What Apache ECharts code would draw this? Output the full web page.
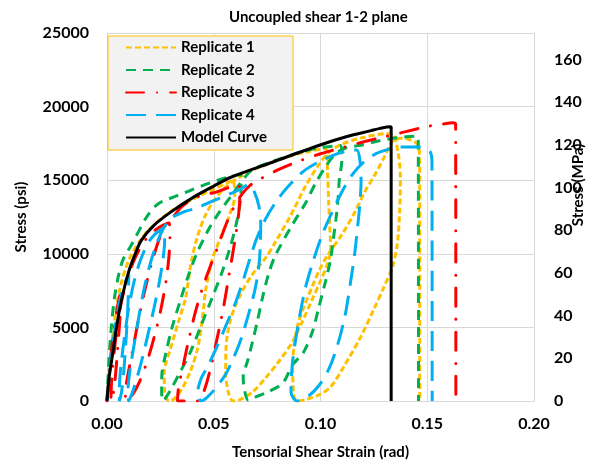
<!DOCTYPE html>
<html>
<head>
<meta charset="utf-8">
<script src="https://cdn.jsdelivr.net/npm/echarts@6/dist/echarts.min.js"></script>
<style>
  html, body { margin: 0; padding: 0; background: #ffffff; }
  #chart { width: 597px; height: 465px; }
</style>
</head>
<body>
<div id="chart"></div>
<script>
// Cyclic in-plane shear tests, [tensorial shear strain (rad), stress (psi)]
const replicate1 = [
  [0,0],[0.001,2000],[0.003,4900],[0.006,7600],[0.010,9500],[0.015,10800],[0.020,11700],[0.030,12900],[0.040,13700],[0.050,14400],[0.059,14950],
  [0.0598,13900],[0.0578,12800],[0.0535,11200],[0.0490,9500],[0.0462,7500],[0.0446,5500],[0.0425,3600],[0.0390,2000],[0.0350,800],[0.0315,150],[0.0290,0],
  [0.0270,700],[0.0268,2000],[0.0292,3300],[0.0335,5400],[0.0368,7000],[0.0393,9300],[0.0420,11000],[0.0460,12600],[0.0510,13800],[0.0560,14600],[0.0620,15200],
  [0.0700,15800],[0.0850,16600],[0.0960,17000],[0.1023,17150],
  [0.1033,15500],[0.1038,13600],[0.1043,11900],[0.1048,10300],[0.1030,9200],[0.0995,8000],[0.0958,6800],[0.0915,5400],[0.0868,4000],[0.0803,2650],[0.0742,1550],[0.0681,600],[0.0624,100],[0.0590,0],
  [0.0568,600],[0.0556,2000],[0.0557,3500],[0.0578,5500],[0.0624,7200],[0.0681,8600],[0.0742,9700],[0.0789,10800],[0.0860,12600],[0.0930,14600],[0.0990,16000],[0.1040,16900],[0.1100,17450],[0.1200,17900],[0.1300,18150],[0.1337,18150],
  [0.1362,17000],[0.1374,15300],[0.1371,13000],[0.1360,10700],[0.1337,9100],[0.1296,7700],[0.1249,6200],[0.1188,4350],[0.1108,2300],[0.1047,950],[0.0991,400],[0.0930,100],[0.0895,0],
  [0.0876,300],[0.0870,2400],[0.0878,4000],[0.0898,5400],[0.0925,6500],[0.0962,7800],[0.0995,8900],[0.1033,9900],[0.1100,11300],[0.1160,12800],[0.1207,14200],[0.1254,15350],[0.1300,16600],[0.1340,17700],
  [0.1380,17850],[0.1420,17750],[0.1450,17500],[0.1462,17100],[0.1465,15000],[0.1465,0]
];

const replicate2 = [
  [0,0],[0.0008,2500],[0.002,5000],[0.0035,7000],[0.0055,8600],[0.0075,9600],[0.011,10500],[0.014,11300],[0.019,12600],[0.024,13400],[0.032,13900],[0.039,14300],[0.045,14650],[0.052,15000],[0.058,15250],[0.0625,15400],
  [0.0628,14500],[0.0622,13300],[0.0605,12000],[0.0578,10500],[0.0540,8800],[0.0495,7100],[0.0440,5100],[0.0390,3300],[0.0340,1900],[0.0300,800],[0.0272,150],[0.0262,0],
  [0.0256,600],[0.0257,1800],[0.0275,3200],[0.0305,5000],[0.0345,6900],[0.0383,8600],[0.0420,10000],[0.0470,11500],[0.0520,12700],[0.0575,13800],[0.0630,14900],[0.0680,15700],[0.0800,16400],[0.0930,17000],[0.1020,17250],[0.1095,17350],
  [0.1100,16400],[0.1088,15000],[0.1082,13700],[0.1072,12300],[0.1060,11000],[0.1047,9600],[0.1023,8100],[0.0991,6300],[0.0962,4700],[0.0920,3300],[0.0869,2450],[0.0822,1200],[0.0742,540],[0.0695,270],[0.0662,50],
  [0.0642,900],[0.0638,1700],[0.0657,2650],[0.0681,4000],[0.0704,5400],[0.0728,7000],[0.0756,8600],[0.0789,9900],[0.0869,12000],[0.0930,13450],[0.0977,14800],[0.1023,15900],[0.1070,16800],[0.1120,17200],[0.1180,17350],
  [0.1250,17600],[0.1320,17800],[0.1400,17950],[0.1452,18000],[0.1458,17500],[0.1459,0]
];

const replicate3 = [
  [0,0],[0.0008,1400],[0.0018,3000],[0.0032,4800],[0.0048,6300],[0.0062,7300],
  [0.0062,6200],[0.0055,4500],[0.0045,2600],[0.0035,1100],[0.0025,200],[0.0018,0],
  [0.0022,1500],[0.0035,3500],[0.0052,5500],[0.0070,6900],[0.0095,8300],[0.0125,9500],[0.0160,10500],[0.0200,11300],[0.0245,11800],[0.0290,12100],
  [0.0295,11200],[0.0290,9800],[0.0276,8100],[0.0252,6200],[0.0222,4400],[0.0188,2700],[0.0152,1300],[0.0118,400],[0.0088,0],
  [0.0086,600],[0.0097,1700],[0.0122,3600],[0.0150,5700],[0.0180,7700],[0.0212,9500],[0.0242,10900],[0.0272,11900],[0.0310,12500],[0.0350,13200],[0.0400,13700],[0.0450,14000],[0.0500,14150],[0.0560,14450],[0.0615,14700],
  [0.0622,13900],[0.0615,12500],[0.0598,10800],[0.0572,8600],[0.0545,6300],[0.0515,4200],[0.0488,2400],[0.0462,1000],[0.0440,200],[0.0425,0],[0.0330,0],
  [0.0335,900],[0.0358,2500],[0.0385,4300],[0.0415,6100],[0.0448,7700],[0.0480,9000],[0.0512,10200],[0.0542,11400],[0.0572,12500],[0.0603,13400],[0.0635,14100],[0.0670,14650],
  [0.0720,15100],[0.0800,15700],[0.0900,16300],[0.1000,16800],[0.1100,17200],[0.1200,17600],[0.1300,17950],[0.1400,18300],[0.1500,18650],[0.1580,18830],[0.1618,18900],[0.1633,18800],[0.1634,0]
];

const replicate4 = [
  [0,0],[0.0010,1500],[0.0025,3500],[0.0040,5200],[0.0060,6800],[0.0080,7900],[0.0102,8600],
  [0.0100,7300],[0.0095,5600],[0.0087,3700],[0.0078,1900],[0.0068,600],[0.0058,0],
  [0.0058,900],[0.0067,2600],[0.0084,4600],[0.0105,6600],[0.0130,8300],[0.0160,9700],[0.0195,10800],[0.0230,11400],[0.0265,11750],
  [0.0270,10900],[0.0262,9600],[0.0244,8000],[0.0220,6300],[0.0193,4600],[0.0167,3000],[0.0141,1600],[0.0119,600],[0.0102,0],
  [0.0099,900],[0.0110,2300],[0.0128,3900],[0.0150,5800],[0.0172,7500],[0.0200,9200],[0.0228,10500],[0.0260,11600],[0.0300,12400],[0.0360,12850],[0.0420,13100],[0.0480,13500],[0.0540,13850],[0.0580,14100],[0.0620,14350],[0.0665,14700],
  [0.0690,14200],[0.0712,13200],[0.0720,12000],[0.0718,10500],[0.0710,9000],[0.0692,7500],[0.0665,6000],[0.0630,4300],[0.0595,3000],[0.0555,1800],[0.0505,800],[0.0465,200],[0.0440,0],
  [0.0425,600],[0.0440,1500],[0.0470,2300],[0.0515,3700],[0.0565,5400],[0.0605,6800],[0.0640,8300],[0.0670,9700],[0.0700,11000],[0.0740,12300],[0.0790,13500],[0.0850,14600],[0.0920,15600],[0.1000,16300],[0.1080,16800],[0.1130,17000],[0.1170,17050],
  [0.1185,16300],[0.1190,15000],[0.1185,13500],[0.1175,12000],[0.1160,10000],[0.1140,8000],[0.1115,5800],[0.1080,3800],[0.1040,2200],[0.0990,1000],[0.0940,300],[0.0890,0],
  [0.0862,600],[0.0868,2500],[0.0893,5000],[0.0928,7600],[0.0968,9600],[0.1008,11300],[0.1050,12700],[0.1100,14200],[0.1150,15400],[0.1200,16200],[0.1260,16800],[0.1320,17100],[0.1370,17250],
  [0.1420,17250],[0.1470,17250],[0.1497,17100],[0.1515,16900],[0.1522,16300],[0.1523,0]
];

const modelCurve = [
  [0,0],[0.0010,1600],[0.0026,3150],[0.0049,5400],[0.0073,7200],[0.0104,8900],[0.0135,10100],[0.0160,10900],[0.0221,11950],[0.0300,12850],[0.0400,13800],[0.0500,14600],[0.0580,15200],[0.0764,16170],[0.0998,17390],[0.1120,17950],[0.1232,18350],[0.1279,18520],[0.1326,18630],[0.1331,18630],[0.1331,0]
];

const seriesNames = ['Replicate 1', 'Replicate 2', 'Replicate 3', 'Replicate 4', 'Model Curve'];
const strainTicks = [0, 0.05, 0.10, 0.15, 0.20];
const psiTicks = [0, 5000, 10000, 15000, 20000, 25000];
const mpaTicks = [0, 20, 40, 60, 80, 100, 120, 140, 160];
const PSI_PER_MPA = 145.038;

const FONT = 'Lato, "Open Sans", sans-serif';
const GRID_GRAY = '#d9d9d9';

const chart = echarts.init(document.getElementById('chart'), null, { renderer: 'canvas' });

function lineSeries(name, data, color, width, dash, cap) {
  return {
    name: name,
    type: 'line',
    data: data,
    yAxisIndex: 0,
    symbol: 'none',
    smooth: 0.3,
    lineStyle: { color: color, width: width, type: dash, cap: cap || 'butt' },
    itemStyle: { color: color },
    emphasis: { disabled: true },
    animation: false
  };
}

const option = {
  animation: false,
  backgroundColor: '#ffffff',
  title: {
    text: 'Uncoupled shear 1-2 plane',
    left: 224,
    top: 5,
    textStyle: { fontFamily: FONT, fontWeight: 'bold', fontSize: 15, color: '#000000' }
  },
  legend: {
    data: seriesNames,
    orient: 'vertical',
    left: 108,
    top: 36,
    padding: [4, 26, 5, 17],
    itemGap: 7.5,
    itemWidth: 50,
    itemHeight: 14,
    backgroundColor: '#f2f2f2',
    borderColor: '#ffc000',
    borderWidth: 1,
    borderRadius: 0,
    itemStyle: { opacity: 0 },
    lineStyle: { opacity: 1 },
    textStyle: { fontFamily: FONT, fontWeight: 'bold', fontSize: 15, color: '#000000' }
  },
  grid: { left: 107, right: 63, top: 33, bottom: 64, outerBoundsMode: 'none', containLabel: false },
  xAxis: {
    type: 'value',
    min: strainTicks[0],
    max: strainTicks[strainTicks.length - 1],
    interval: 0.05,
    name: 'Tensorial Shear Strain (rad)',
    nameLocation: 'middle',
    nameGap: 44,
    nameMoveOverlap: false,
    nameTextStyle: { fontFamily: FONT, fontWeight: 'bold', fontSize: 15, color: '#000000' },
    axisLine: { show: true, lineStyle: { color: GRID_GRAY, width: 1 } },
    axisTick: { show: false },
    axisLabel: {
      margin: 15,
      fontFamily: FONT, fontWeight: 'bold', fontSize: 16, color: '#000000',
      formatter: v => v.toFixed(2)
    },
    splitLine: { show: true, lineStyle: { color: GRID_GRAY, width: 1 } }
  },
  yAxis: [
    {
      type: 'value',
      min: psiTicks[0],
      max: psiTicks[psiTicks.length - 1],
      interval: 5000,
      name: 'Stress (psi)',
      nameLocation: 'middle',
      nameGap: 78,
      nameRotate: 90,
      nameMoveOverlap: false,
      nameTextStyle: { fontFamily: FONT, fontWeight: 'bold', fontSize: 15, color: '#000000' },
      axisLine: { show: true, lineStyle: { color: GRID_GRAY, width: 1 } },
      axisTick: { show: false },
      axisLabel: {
        margin: 18, fontFamily: FONT, fontWeight: 'bold', fontSize: 16, color: '#000000',
        formatter: v => String(v)
      },
      splitLine: { show: true, lineStyle: { color: GRID_GRAY, width: 1 } }
    },
    {
      type: 'value',
      position: 'right',
      min: 0,
      max: psiTicks[psiTicks.length - 1] / PSI_PER_MPA,
      interval: 20,
      name: 'Stress (MPa)',
      nameLocation: 'middle',
      nameGap: 37,
      nameRotate: 90,
      nameMoveOverlap: false,
      nameTextStyle: { fontFamily: FONT, fontWeight: 'bold', fontSize: 15, color: '#000000', padding: [0, 0, 0, 64] },
      axisLine: { show: true, lineStyle: { color: GRID_GRAY, width: 1 } },
      axisTick: { show: false },
      axisLabel: {
        margin: 20,
        fontFamily: FONT, fontWeight: 'bold', fontSize: 16, color: '#000000',
        formatter: v => (mpaTicks.indexOf(Math.round(v)) >= 0 && Math.abs(v - Math.round(v)) < 1e-6) ? String(Math.round(v)) : ''
      },
      splitLine: { show: false }
    }
  ],
  series: [
    lineSeries(seriesNames[0], replicate1, '#ffc000', 3, [6, 3], 'butt'),
    lineSeries(seriesNames[1], replicate2, '#00b050', 3, [10, 7], 'butt'),
    lineSeries(seriesNames[2], replicate3, '#ff0000', 3, [18, 13, 0.1, 13], 'round'),
    lineSeries(seriesNames[3], replicate4, '#00b0f0', 3, [20, 10], 'butt'),
    lineSeries(seriesNames[4], modelCurve, '#000000', 3, 'solid', 'butt')
  ]
};

chart.setOption(option);
</script>
</body>
</html>
